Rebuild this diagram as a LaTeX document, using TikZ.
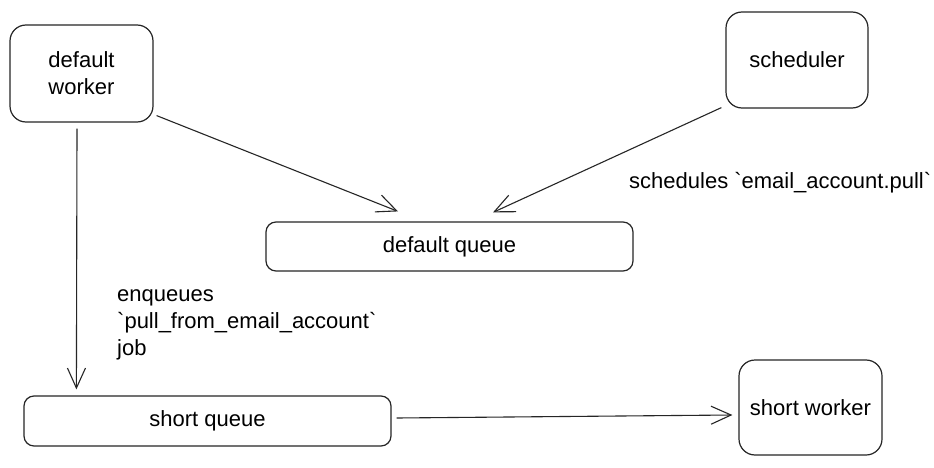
\documentclass[tikz,border=0pt]{standalone}
\usepackage{fontspec}
\newfontfamily\myfont{Liberation Sans}
\usetikzlibrary{arrows.meta}
\begin{document}
\begin{tikzpicture}[x=1pt,y=-1pt,
  box/.style={draw=black!85, line width=1.2pt, rounded corners=16pt, inner sep=0pt, font=\myfont\fontsize{22}{27}\selectfont, align=center},
  qbox/.style={draw=black!85, line width=1.2pt, rounded corners=10pt, inner sep=0pt, font=\myfont\fontsize{22}{27}\selectfont},
  arr/.style={draw=black!85, line width=1.1pt, -{Straight Barb[length=20pt,width=18pt,line width=1.1pt]}},
  lbl/.style={font=\myfont\fontsize{22}{27}\selectfont, inner sep=0pt, align=left}]
\useasboundingbox[fill=white] (0,0) rectangle (934,468);
\node[box, minimum width=143pt, minimum height=97pt] (dw) at (81.5,73.5) {default\\worker};
\node[box, minimum width=142pt, minimum height=96pt] (sch) at (797,60) {scheduler};
\node[qbox, minimum width=367pt, minimum height=49pt] (dq) at (449.5,246.5) {default queue};
\node[qbox, minimum width=367pt, minimum height=50pt] (sq) at (207.5,421) {short queue};
\node[box, minimum width=143pt, minimum height=95pt] (sw) at (810.5,407.5) {short worker};
\draw[arr] ([xshift=3pt,yshift=7pt]dw.south east) -- ([xshift=-51.5pt,yshift=10pt]dq.north);
\draw[arr] ([xshift=-4pt,yshift=1pt]sch.south west) -- ([xshift=43.5pt,yshift=9pt]dq.north);
\draw[arr] ([xshift=-4.5pt,yshift=-6pt]dw.south) -- ([xshift=53pt,yshift=6pt]sq.north west);
\draw[arr] ([xshift=5pt,yshift=3pt]sq.east) -- ([xshift=-6pt,yshift=-7.5pt]sw.west);
\node[lbl, anchor=west] (l1) at (629,183) {schedules `email\_account.pull`};
\node[lbl, anchor=north west] (l2) at (117,289) {enqueues\\`pull\_from\_email\_account`\\job};
\end{tikzpicture}
\end{document}
